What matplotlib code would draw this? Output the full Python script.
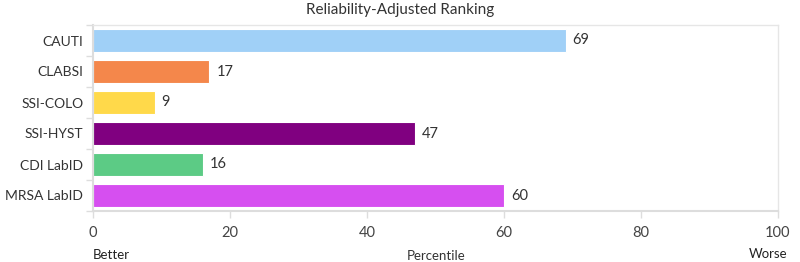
import matplotlib
matplotlib.use("Agg")
import matplotlib.pyplot as plt
from matplotlib.ticker import FixedLocator

categories = ["CAUTI", "CLABSI", "SSI-COLO", "SSI-HYST", "CDI LabID", "MRSA LabID"]
values = [69, 17, 9, 47, 16, 60]
colors = ["#A0D0F7", "#F4874B", "#FFD94A", "#800080", "#5CCB85", "#D64FF0"]
xticks = [0, 20, 40, 60, 80, 100]

plt.rcParams['font.family'] = ['Lato', 'DejaVu Sans']
W, H = 800, 262
fig = plt.figure(figsize=(W/100, H/100), dpi=100)
ax = fig.add_axes([93/W, 1-211/H, (778-93)/W, (211-25)/H])

y = list(range(len(categories)))
ax.barh(y, values, height=0.75, color=colors, edgecolor='white', linewidth=0.8)
for yi, v in zip(y, values):
    ax.text(v + 1, yi, str(v), va='center', ha='left', fontsize=10.5, color='#333333')

ax.set_xlim(0, 100)
ax.set_ylim(len(categories) - 0.5, -0.5)
ax.set_yticks(y)
ax.set_yticklabels(categories, fontsize=10, color='#333333')
ax.yaxis.set_minor_locator(FixedLocator([i - 0.5 for i in range(len(categories) + 1)]))
ax.tick_params(axis='y', which='major', length=0, pad=7)
ax.tick_params(axis='y', which='minor', length=5, color='#DDDDDD', width=1)
ax.set_xticks(xticks)
ax.set_xticklabels([str(t) for t in xticks], fontsize=10.5, color='#444444')
ax.tick_params(axis='x', length=5, color='#DDDDDD', width=1, pad=6)

for s in ax.spines.values():
    s.set_color('#E6E6E6')
    s.set_linewidth(1)
ax.spines['left'].set_color('#DDDDDD')
ax.spines['bottom'].set_color('#DDDDDD')
ax.spines['left'].set_linewidth(1.5)
ax.spines['bottom'].set_linewidth(1.5)

fig.text(400/W, 1-10/H, "Reliability-Adjusted Ranking", ha='center', va='center', fontsize=11, color='#333333')
fig.text(93/W, 1-255/H, "Better", ha='left', va='center', fontsize=9.5, color='#222222')
fig.text(436/W, 1-256/H, "Percentile", ha='center', va='center', fontsize=9.5, color='#333333')
fig.text(787/W, 1-254/H, "Worse", ha='right', va='center', fontsize=9.5, color='#222222')

fig.savefig("out.png", dpi=100)
